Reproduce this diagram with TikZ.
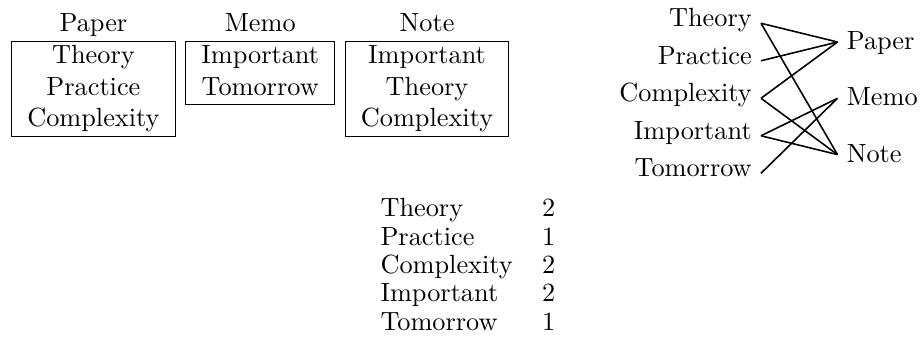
\documentclass[tikz,border=0pt]{standalone}
\usepackage{tikz}
\usetikzlibrary{positioning}

\begin{document}
\begin{tikzpicture}[x=0.3802pt, y=-0.3802pt]
\tikzstyle{wordbox}=[draw, inner xsep=6pt, inner ysep=0pt]
\tikzstyle{doctitle}=[inner sep=0pt, text depth=3.5pt]
\tikzstyle{word}=[inner sep=0pt, anchor=base west]
\tikzstyle{link}=[semithick]
\useasboundingbox (0,0) rectangle (921,346);
% the three documents
\node [wordbox, anchor=north west] (paper) at (11,41) {\begin{tabular}{@{}c@{}}Theory\\Practice\\Complexity\end{tabular}};
\node [wordbox, anchor=north west] (memo) at ([xshift=3.5pt]paper.north east) {\begin{tabular}{@{}c@{}}Important\\Tomorrow\end{tabular}};
\node [wordbox, anchor=north west] (note) at ([xshift=3.5pt]memo.north east) {\begin{tabular}{@{}c@{}}Important\\Theory\\Complexity\end{tabular}};
\node [doctitle, above=0pt of paper] (papertitle) {Paper};
\node [doctitle, above=0pt of memo] (memotitle) {Memo};
\node [doctitle, above=0pt of note] (notetitle) {Note};
% words against documents
\node [anchor=base east] (theory) at (761,26.7) {Theory};
\node [anchor=base east] (practice) at (761,64.2) {Practice};
\node [anchor=base east] (complexity) at (761,101.7) {Complexity};
\node [anchor=base east] (important) at (761,139.2) {Important};
\node [anchor=base east] (tomorrow) at (761,176.7) {Tomorrow};
\node [anchor=base west] (gpaper) at (837.5,49.5) {Paper};
\node [anchor=base west] (gmemo) at (837.5,105.8) {Memo};
\node [anchor=base west] (gnote) at (837.5,162.1) {Note};
\draw [link] ([yshift=1.3pt]theory.base east) -- ([yshift=2.85pt]gpaper.base west);
\draw [link] ([yshift=1.3pt]theory.base east) -- ([yshift=2.85pt]gnote.base west);
\draw [link] ([yshift=1.3pt]practice.base east) -- ([yshift=2.85pt]gpaper.base west);
\draw [link] ([yshift=1.3pt]complexity.base east) -- ([yshift=2.85pt]gpaper.base west);
\draw [link] ([yshift=1.3pt]complexity.base east) -- ([yshift=2.85pt]gnote.base west);
\draw [link] ([yshift=1.3pt]important.base east) -- ([yshift=2.85pt]gmemo.base west);
\draw [link] ([yshift=1.3pt]important.base east) -- ([yshift=2.85pt]gnote.base west);
\draw [link] ([yshift=1.3pt]tomorrow.base east) -- ([yshift=2.85pt]gmemo.base west);
% word counts
\node [word] (theoryword) at (380,216.7) {Theory};
\node [word] (practiceword) at (380,245.1) {Practice};
\node [word] (complexityword) at (380,273.5) {Complexity};
\node [word] (importantword) at (380,301.9) {Important};
\node [word] (tomorrowword) at (380,330.3) {Tomorrow};
\node [word] (theorycount) at (541.7,216.7) {2};
\node [word] (practicecount) at (541.7,245.1) {1};
\node [word] (complexitycount) at (541.7,273.5) {2};
\node [word] (importantcount) at (541.7,301.9) {2};
\node [word] (tomorrowcount) at (541.7,330.3) {1};
\end{tikzpicture}
\end{document}
